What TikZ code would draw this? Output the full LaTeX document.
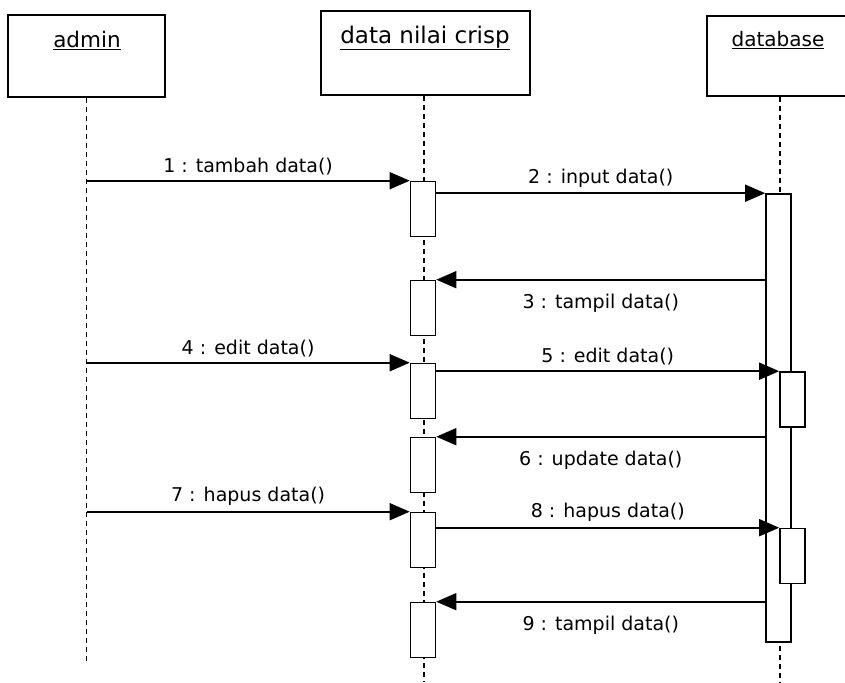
\documentclass[tikz,border=0pt]{standalone}
\usepackage{fontspec}
\setmainfont{DejaVu Sans}
\usetikzlibrary{arrows.meta,positioning}

\begin{document}
\begin{tikzpicture}[
    x=1pt, y=-1pt,
    font=\fontsize{19}{22}\selectfont,
    objbox/.style={rectangle, draw, line width=1.6pt, inner sep=0pt},
    objname/.style={inner sep=0pt},
    act/.style={rectangle, draw, fill=white, line width=1.6pt, minimum width=25pt, minimum height=55pt, inner sep=0pt},
    lifeline/.style={line width=1.5pt, dash pattern=on 5pt off 4pt},
    msg/.style={line width=1.6pt, -{Triangle[length=20pt, width=17pt]}}
]
    \useasboundingbox (0,0) rectangle (845,682);
    \clip (0,0) rectangle (845,682);
    \fill[white] (0,0) rectangle (845,682);

    % objects
    \node[objbox, minimum width=157pt, minimum height=82pt] (admin) at (86.5,56) {};
    \node[objbox, minimum width=209pt, minimum height=84pt] (crisp) at (425.5,53) {};
    \node[objbox, minimum width=146pt, minimum height=80pt] (db) at (780,56) {};
    \node[objname, font=\fontsize{21.5}{24}\selectfont] at (87,40) {\underline{admin}};
    \node[objname, font=\fontsize{23}{26}\selectfont] at (425,38) {\underline{data nilai crisp}};
    \node[objname, font=\fontsize{20}{23}\selectfont] at (778,40) {\underline{database}};

    % lifelines
    \coordinate (adminend) at (86.5,662);
    \coordinate (crispend) at (424,682);
    \coordinate (dbend) at (780,682);
    \draw[lifeline] (admin.south) -- (adminend);
    \draw[lifeline] (crisp.south -| crispend) -- (crispend);
    \draw[lifeline] (db.south) -- (dbend);

    % activations
    \node[act] (c1) at (423,209) {};
    \node[act] (c2) at (423,308) {};
    \node[act] (c3) at (423,391) {};
    \node[act] (c4) at (423,465) {};
    \node[act] (c5) at (423,540) {};
    \node[act] (c6) at (423,630) {};
    \node[act, minimum height=448pt] (d0) at (778.5,418) {};
    \node[act] (d1) at (792.5,399.5) {};
    \node[act] (d2) at (792.5,556) {};

    % messages
    \draw[msg] (admin.south |- c1.north west) -- (c1.north west) node[midway, above=2pt] {1 : tambah data()};
    \draw[msg] (c1.east |- d0.north west) -- (d0.north west) node[midway, above=2pt] {2 : input data()};
    \draw[msg] (d0.west |- c2.north east) -- (c2.north east) node[midway, below=10pt] {3 : tampil data()};
    \draw[msg] (admin.south |- c3.north west) -- (c3.north west) node[midway, above=2pt] {4 : edit data()};
    \draw[msg] (c3.east |- d1.north west) -- (d1.north west) node[midway, above=2pt] {5 : edit data()};
    \draw[msg] (d0.west |- c4.north east) -- (c4.north east) node[midway, below=10pt] {6 : update data()};
    \draw[msg] (admin.south |- c5.north west) -- (c5.north west) node[midway, above=2pt] {7 : hapus data()};
    \draw[msg] (c5.east |- d2.north west) -- (d2.north west) node[midway, above=2pt] {8 : hapus data()};
    \draw[msg] (d0.west |- c6.north east) -- (c6.north east) node[midway, below=10pt] {9 : tampil data()};
\end{tikzpicture}
\end{document}
